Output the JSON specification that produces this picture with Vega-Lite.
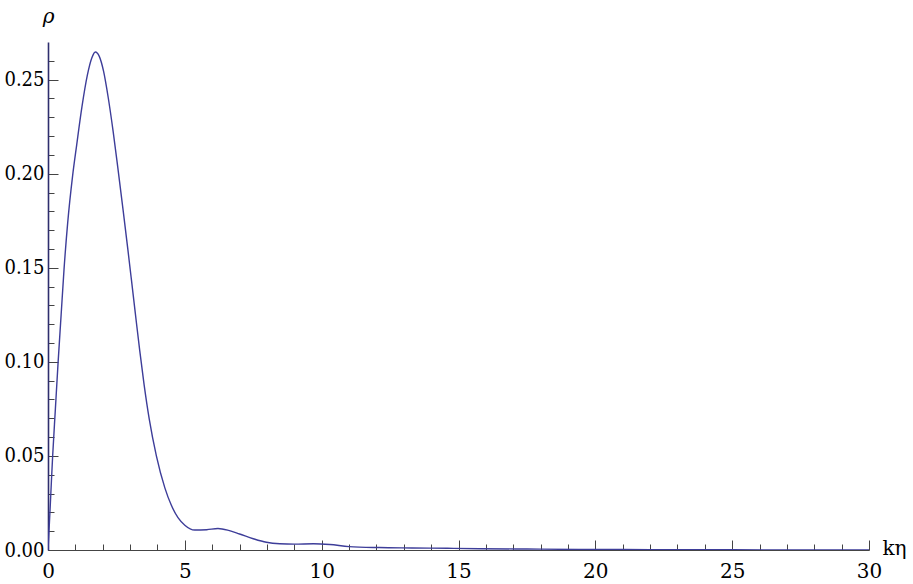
{
  "$schema": "https://vega.github.io/schema/vega-lite/v6.json",
  "autosize": {"type": "none"},
  "padding": {"left": 48, "top": 42, "right": 44, "bottom": 33},
  "width": 821,
  "height": 508,
  "background": "white",
  "config": {"view": {"stroke": null}},
  "data": {"values": [
    {"k": 0, "rho": 0},
    {"k": 0.04, "rho": 0.011},
    {"k": 0.1, "rho": 0.029},
    {"k": 0.17, "rho": 0.05},
    {"k": 0.27, "rho": 0.075},
    {"k": 0.37, "rho": 0.1},
    {"k": 0.48, "rho": 0.125},
    {"k": 0.585, "rho": 0.149},
    {"k": 0.72, "rho": 0.174},
    {"k": 0.9, "rho": 0.199},
    {"k": 1.05, "rho": 0.2155},
    {"k": 1.24, "rho": 0.2355},
    {"k": 1.44, "rho": 0.2525},
    {"k": 1.6, "rho": 0.2615},
    {"k": 1.73, "rho": 0.2647},
    {"k": 1.87, "rho": 0.2625},
    {"k": 2.03, "rho": 0.2545},
    {"k": 2.2, "rho": 0.2405},
    {"k": 2.38, "rho": 0.2225},
    {"k": 2.55, "rho": 0.2034},
    {"k": 2.75, "rho": 0.18},
    {"k": 2.92, "rho": 0.1595},
    {"k": 3.05, "rho": 0.1434},
    {"k": 3.19, "rho": 0.1259},
    {"k": 3.35, "rho": 0.1062},
    {"k": 3.51, "rho": 0.088},
    {"k": 3.7, "rho": 0.0695},
    {"k": 3.96, "rho": 0.05},
    {"k": 4.27, "rho": 0.033},
    {"k": 4.5, "rho": 0.024},
    {"k": 4.75, "rho": 0.0172},
    {"k": 5.0, "rho": 0.0132},
    {"k": 5.36, "rho": 0.0106},
    {"k": 5.8, "rho": 0.0108},
    {"k": 6.21, "rho": 0.0114},
    {"k": 6.6, "rho": 0.0104},
    {"k": 7.0, "rho": 0.0085},
    {"k": 7.5, "rho": 0.006},
    {"k": 7.98, "rho": 0.0041},
    {"k": 8.47, "rho": 0.0033},
    {"k": 9.0, "rho": 0.0031},
    {"k": 9.7, "rho": 0.0033},
    {"k": 10.3, "rho": 0.0029},
    {"k": 11.0, "rho": 0.0018},
    {"k": 12.1, "rho": 0.0013},
    {"k": 13.3, "rho": 0.0011},
    {"k": 14.6, "rho": 0.0009},
    {"k": 15.8, "rho": 0.0007},
    {"k": 17.5, "rho": 0.0005},
    {"k": 19.4, "rho": 0.0003},
    {"k": 22, "rho": 0.0002},
    {"k": 25, "rho": 0.0001},
    {"k": 30, "rho": 0.00005}
  ]},
  "mark": {"type": "line", "color": "#3d3d99", "strokeWidth": 1.4, "interpolate": "monotone", "clip": true},
  "encoding": {
    "x": {
      "field": "k", "type": "quantitative",
      "scale": {"domain": [0, 30], "nice": false, "zero": false},
      "axis": {
        "values": [0,1,2,3,4,5,6,7,8,9,10,11,12,13,14,15,16,17,18,19,20,21,22,23,24,25,26,27,28,29,30],
        "labelExpr": "datum.value % 5 === 0 ? datum.label : ''",
        "format": "d",
        "grid": false,
        "domainColor": "#444444",
        "domainWidth": 1,
        "tickColor": "#444444",
        "tickWidth": 1,
        "tickSize": {"condition": {"test": "datum.value % 5 === 0", "value": -10}, "value": -6},
        "labelFont": "DejaVu Serif",
        "labelFontSize": 20,
        "labelColor": "#000000",
        "labelPadding": 21,
        "labelFlush": false,
        "labelOverlap": false,
        "title": "kη",
        "titleFont": "DejaVu Serif",
        "titleFontSize": 20,
        "titleFontWeight": "normal",
        "titleColor": "#000000",
        "titleAlign": "left",
        "titleBaseline": "middle",
        "titleAnchor": null,
        "titleX": 834,
        "titleY": -2
      }
    },
    "y": {
      "field": "rho", "type": "quantitative",
      "scale": {"domain": [0, 0.27], "nice": false, "zero": true},
      "axis": {
        "values": [0,0.01,0.02,0.03,0.04,0.05,0.06,0.07,0.08,0.09,0.1,0.11,0.12,0.13,0.14,0.15,0.16,0.17,0.18,0.19,0.2,0.21,0.22,0.23,0.24,0.25,0.26],
        "labelExpr": "round(datum.value*100) % 5 === 0 ? format(datum.value, '.2f') : ''",
        "grid": false,
        "domainColor": "#2e2e6e",
        "domainWidth": 1.6,
        "tickColor": "#444444",
        "tickWidth": 1,
        "tickSize": {"condition": {"test": "round(datum.value*100) % 5 === 0", "value": -10}, "value": -6},
        "labelFont": "DejaVu Serif Condensed",
        "labelFontSize": 20,
        "labelColor": "#000000",
        "labelPadding": 14,
        "labelFlush": false,
        "labelOverlap": false,
        "title": "ρ",
        "titleFont": "DejaVu Serif",
        "titleFontSize": 20,
        "titleFontStyle": "italic",
        "titleFontWeight": "normal",
        "titleColor": "#000000",
        "titleAngle": 0,
        "titleAlign": "center",
        "titleBaseline": "alphabetic",
        "titleAnchor": null,
        "titleX": 0,
        "titleY": -20
      }
    }
  }
}
